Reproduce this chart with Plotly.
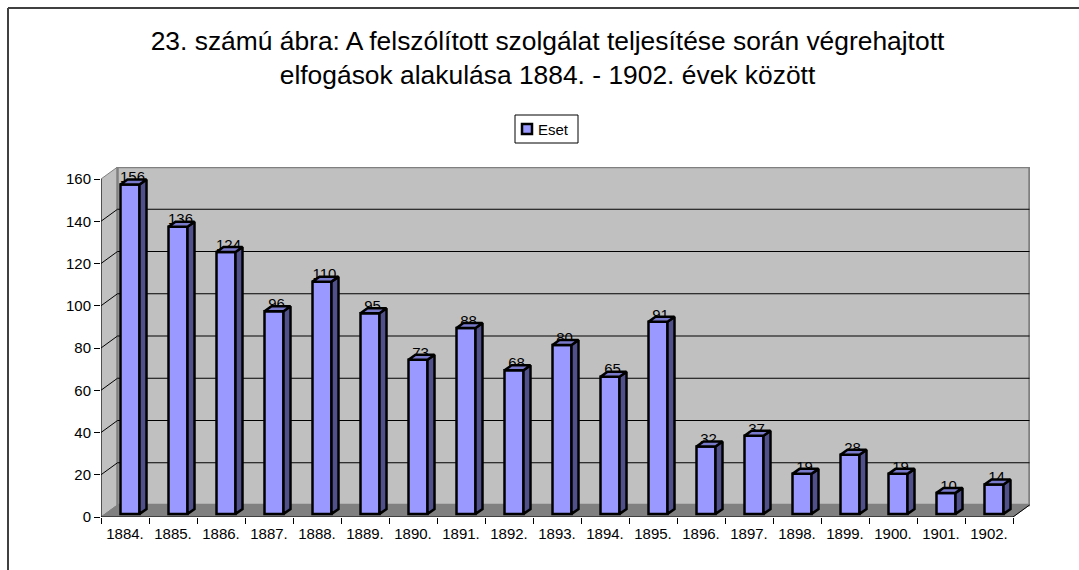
import plotly.graph_objects as go

years = [1884,1885,1886,1887,1888,1889,1890,1891,1892,1893,1894,1895,1896,1897,1898,1899,1900,1901,1902]
values = [156,136,124,96,110,95,73,88,68,80,65,91,32,37,19,28,19,10,14]
y_ticks = [0,20,40,60,80,100,120,140,160]
tick_labels = [f"{y}." for y in years]
series_name = "Eset"
title = "23. számú ábra: A felszólított szolgálat teljesítése során végrehajtott<br>elfogások alakulása 1884. - 1902. évek között"

W, H = 1079, 570
L, R, T, B = 101, 1030, 167, 517
CAT_PX = (1013 - 101) / 19
UNIT_PX = (517 - 179) / 160
n = len(years)
xr = [-0.5, -0.5 + (R - L) / CAT_PX]
yr = [0, (B - T) / UNIT_PX]
dx = lambda px: px / CAT_PX
dy = lambda px: px / UNIT_PX
x0, x1 = -0.5, n - 0.5
wx, wy = dx(16.5), dy(12)          # depth of the chart box
bw = dx(19)                        # bar front width
bx, by = dx(5), dy(3)              # bar front offset from the floor front
sx, sy = dx(7), dy(5)              # bar depth

px = lambda p: (p - L) / (R - L)   # page pixels to paper fractions
py = lambda p: (B - p) / (B - T)

fig = go.Figure()

def path(xs, ys):
    return "M" + "L".join(f"{a},{b}" for a, b in zip(xs, ys)) + "Z"

shapes = []
def wall(xs, ys, fill, line, width):
    shapes.append(dict(type="path", xref="x", yref="y", layer="below", path=path(xs, ys),
                       fillcolor=fill, line=dict(color=line, width=width)))

wall([x0, x0 + wx, x0 + wx, x0], [0, wy, 160 + wy, 160], "#C0C0C0", "#808080", 1)
wall([x0 + wx, x1 + wx, x1 + wx, x0 + wx], [wy, wy, 160 + wy, 160 + wy], "#C0C0C0", "#808080", 2.5)
wall([x0, x1, x1 + wx, x0 + wx], [0, 0, wy, wy], "#808080", "#808080", 1)

# gridlines behind the bars
for t in y_ticks[1:-1]:
    shapes.append(dict(type="path", xref="x", yref="y", layer="below",
                       path=f"M{x0},{t}L{x0 + wx},{t + wy}L{x1 + wx},{t + wy}",
                       line=dict(color="#000000", width=1)))

# axis lines
shapes.append(dict(type="path", xref="x", yref="y", layer="below",
                   path=f"M{x0},160L{x0},0L{x1},0L{x1 + wx},{wy}", line=dict(color="#000000", width=1)))

# chart frame: top and left edges only are in view
shapes.append(dict(type="line", xref="paper", yref="paper", x0=px(8), x1=px(8), y0=py(570), y1=py(8),
                   line=dict(color="#404040", width=2)))
shapes.append(dict(type="line", xref="paper", yref="paper", x0=px(8), x1=px(1079), y0=py(8), y1=py(8),
                   line=dict(color="#404040", width=2)))

# legend box
shapes.append(dict(type="rect", xref="paper", yref="paper", x0=px(515), x1=px(578), y0=py(143), y1=py(115),
                   fillcolor="#FFFFFF", line=dict(color="#000000", width=1)))
shapes.append(dict(type="rect", xref="paper", yref="paper", x0=px(522), x1=px(532), y0=py(134), y1=py(124),
                   fillcolor="#9999FF", line=dict(color="#000000", width=2.5)))

# bar fronts
fig.add_trace(go.Bar(x=[i + bx for i in range(n)], y=values, base=[by] * n, width=bw, name=series_name,
                     marker=dict(color="#9999FF", line=dict(color="#000000", width=2.5)),
                     hovertemplate="%{customdata}: %{y}<extra></extra>", customdata=tick_labels,
                     showlegend=False))

# value labels sit behind the top faces of the bars
fig.add_trace(go.Scatter(x=[i + bx + sx / 2 - dx(1) for i in range(n)], y=[v + by + dy(6) for v in values],
                         mode="text", text=[str(v) for v in values], textposition="middle center",
                         textfont=dict(family="Liberation Sans", size=15, color="#000000"),
                         showlegend=False, hoverinfo="skip", cliponaxis=False))

for i, v in enumerate(values):
    l, r = i + bx - bw / 2, i + bx + bw / 2
    b, t = by, by + v
    fig.add_trace(go.Scatter(x=[r, r + sx, r + sx, r, r], y=[b, b + sy, t + sy, t, b], fill="toself",
                             fillcolor="#50508C", mode="lines", line=dict(color="#000000", width=2.5),
                             showlegend=False, hoverinfo="skip"))
    fig.add_trace(go.Scatter(x=[l, r, r + sx, l + sx, l], y=[t, t, t + sy, t + sy, t], fill="toself",
                             fillcolor="#7A7ACC", mode="lines", line=dict(color="#000000", width=2.5),
                             showlegend=False, hoverinfo="skip"))

fig.update_layout(
    width=W, height=H, autosize=False, paper_bgcolor="#FFFFFF", plot_bgcolor="rgba(0,0,0,0)",
    margin=dict(l=L, r=W - R, t=T, b=H - B, autoexpand=False),
    font=dict(family="Liberation Sans", color="#000000"),
    title=dict(text=title, x=547.5 / W, xanchor="center", y=1 - 50 / H, yanchor="top",
               font=dict(size=26.4, family="Liberation Sans", color="#000000")),
    showlegend=False,
    annotations=[dict(text=series_name, xref="paper", yref="paper", x=px(536), y=py(129), xanchor="left",
                      yanchor="middle", showarrow=False, font=dict(size=15, family="Liberation Sans"))],
    shapes=shapes,
    xaxis=dict(range=xr, showgrid=False, zeroline=False, showline=False, tickangle=0,
               tickmode="array", tickvals=list(range(n)), ticktext=tick_labels, ticks="", ticklabelstandoff=6,
               tickfont=dict(size=15, family="Liberation Sans"),
               minor=dict(tickmode="array", tickvals=[i - 0.5 for i in range(n + 1)], ticks="outside",
                          ticklen=6, tickcolor="#000000", tickwidth=1, showgrid=False)),
    yaxis=dict(range=yr, showgrid=False, zeroline=False, showline=False,
               tickmode="array", tickvals=y_ticks, ticks="outside", ticklen=6, tickcolor="#000000", tickwidth=1,
               tickfont=dict(size=15, family="Liberation Sans")),
)
fig.write_html("out.html", post_script="document.body.style.margin='0';", config={"displayModeBar": False})
